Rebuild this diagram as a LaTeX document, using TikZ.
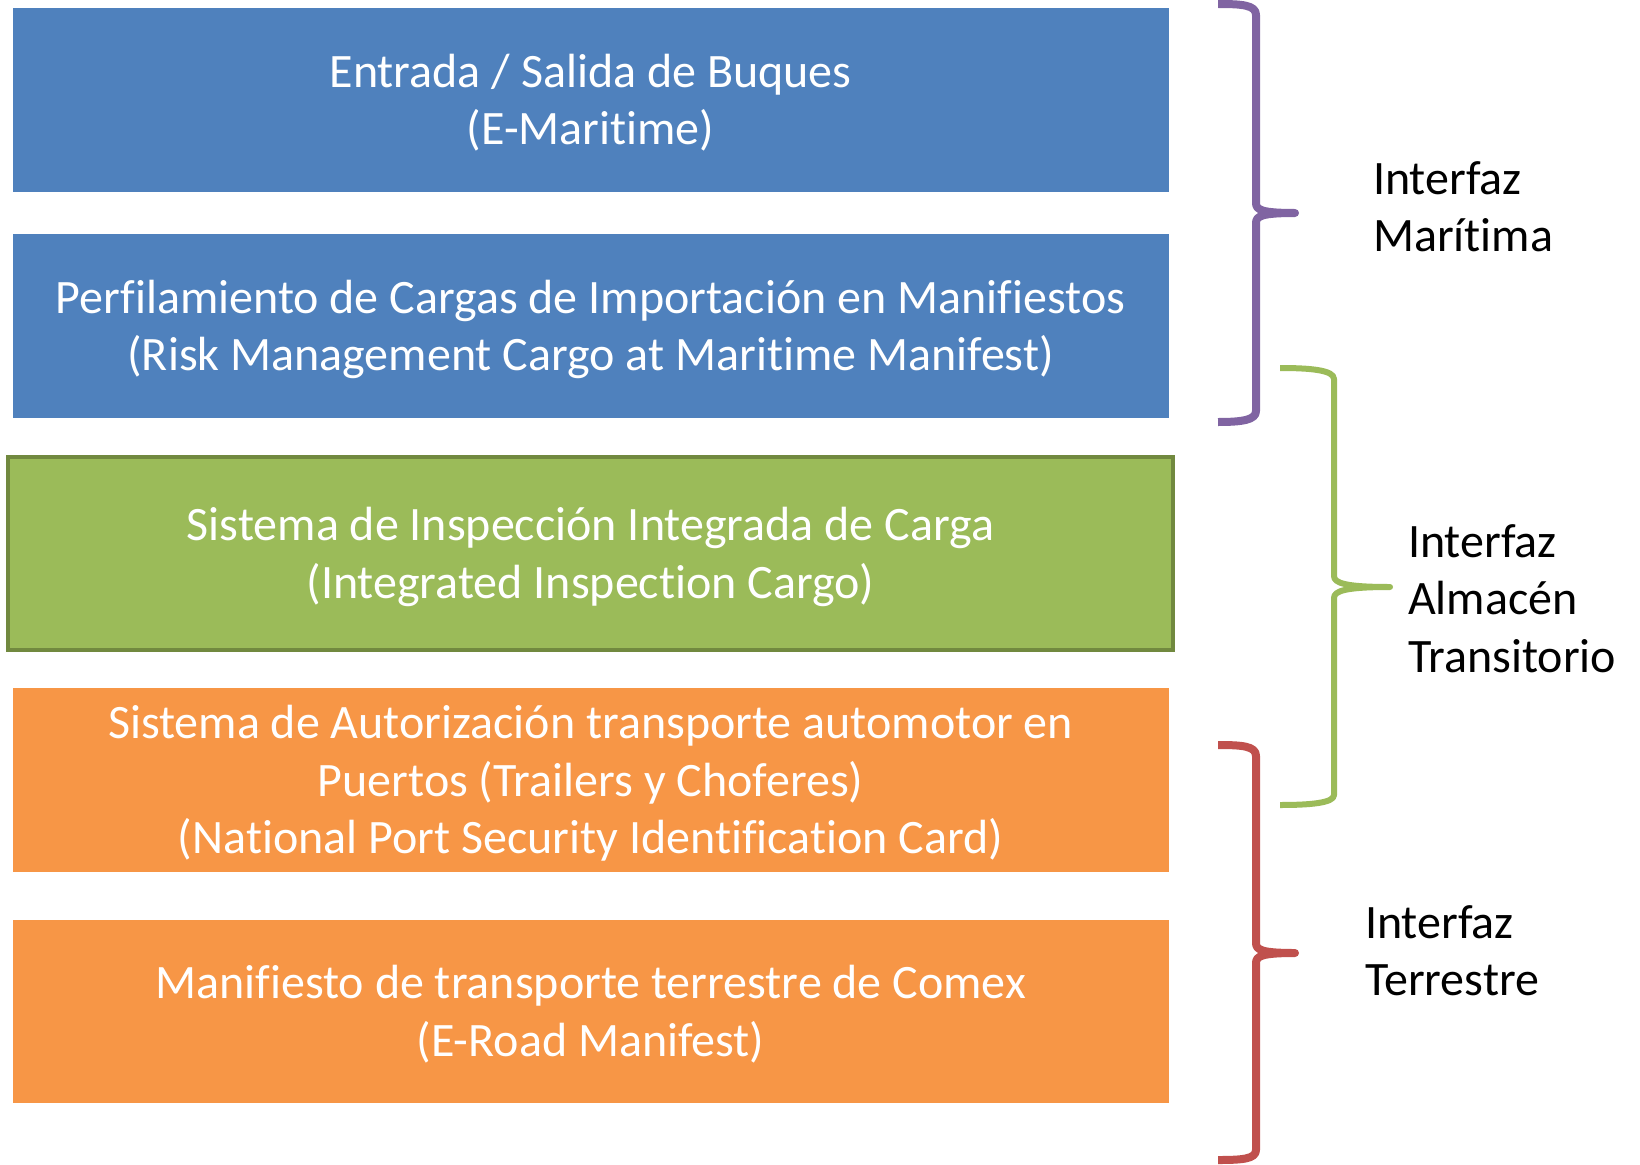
\documentclass[tikz,border=0pt]{standalone}
\usepackage{fontspec}
\setmainfont{Carlito}[Ligatures={NoCommon,NoContextual}]
\definecolor{cblue}{HTML}{4F81BD}
\definecolor{cgreen}{HTML}{9BBB59}
\definecolor{cgreenline}{HTML}{71893F}
\definecolor{corange}{HTML}{F79646}
\definecolor{cpurple}{HTML}{8064A2}
\definecolor{cred}{HTML}{C0504D}
\newcommand\mystrut{\rule[-12.75pt]{0pt}{57.5pt}}
\begin{document}
\begin{tikzpicture}[x=1pt,y=-1pt,
  box/.style={inner sep=0pt, outer sep=0pt, text=white, align=center,
    font=\fontsize{48}{57.5}\selectfont, minimum height=183.4pt, minimum width=1155.8pt},
  bluebox/.style={box, fill=cblue},
  greenbox/.style={box, fill=cgreen, draw=cgreenline, line width=4pt, minimum width=1165pt, minimum height=192.7pt},
  orangebox/.style={box, fill=corange},
  lab/.style={inner sep=0pt, outer sep=0pt, anchor=north west, align=left, text=black,
    font=\fontsize{48}{57.5}\selectfont},
  brace/.style={line width=#1, line join=round, line cap=butt},
]
\path[use as bounding box] (0,0) rectangle (1640,1164);

\node[bluebox] (b1) at (590.6,100) {\mystrut Entrada / Salida de Buques\\\mystrut (E-Maritime)};
\node[bluebox] (b2) at (590.6,326) {\mystrut Perfilamiento de Cargas de Importación en Manifiestos\\\mystrut (Risk Management Cargo at Maritime Manifest)};
\node[greenbox] (g1) at (590.5,553.3) {\mystrut Sistema de Inspección Integrada de Carga\\\mystrut (Integrated Inspection Cargo)};
\node[orangebox, minimum height=183.7pt] (o1) at (590.6,780.1) {\mystrut Sistema de Autorización transporte automotor en\\\mystrut Puertos (Trailers y Choferes)\\\mystrut (National Port Security Identification Card)};
\node[orangebox] (o2) at (590.6,1011.7) {\mystrut Manifiesto de transporte terrestre de Comex\\\mystrut (E-Road Manifest)};

\node[lab] (lm) at (1373,149.5) {\mystrut Interfaz\\\mystrut Marítima};
\node[lab] (la) at (1408,512.3) {\mystrut Interfaz\\\mystrut Almacén\\\mystrut Transitorio};
\node[lab] (lt) at (1365,893.3) {\mystrut Interfaz\\\mystrut Terrestre};

\draw[brace=8pt, cpurple] (1218,4) .. controls (1242,4) and (1256,5) .. (1256,15) -- (1256,203)
  .. controls (1256,210) and (1262,213) .. (1295,213)
  .. controls (1262,213) and (1256,216) .. (1256,223) -- (1256,411)
  .. controls (1256,420) and (1242,422) .. (1218,422);
\draw[brace=6pt, cgreen] (1280,368) .. controls (1310,368) and (1334,370) .. (1334,379) -- (1334,576)
  .. controls (1334,583) and (1345,587) .. (1390,587)
  .. controls (1345,587) and (1334,591) .. (1334,598) -- (1334,795)
  .. controls (1334,803) and (1310,805) .. (1280,805);
\draw[brace=8pt, cred] (1218,745) .. controls (1242,745) and (1256,746) .. (1256,756) -- (1256,943)
  .. controls (1256,950) and (1262,953) .. (1295,953)
  .. controls (1262,953) and (1256,956) .. (1256,963) -- (1256,1150)
  .. controls (1256,1159) and (1242,1160) .. (1218,1160);
\end{tikzpicture}
\end{document}
